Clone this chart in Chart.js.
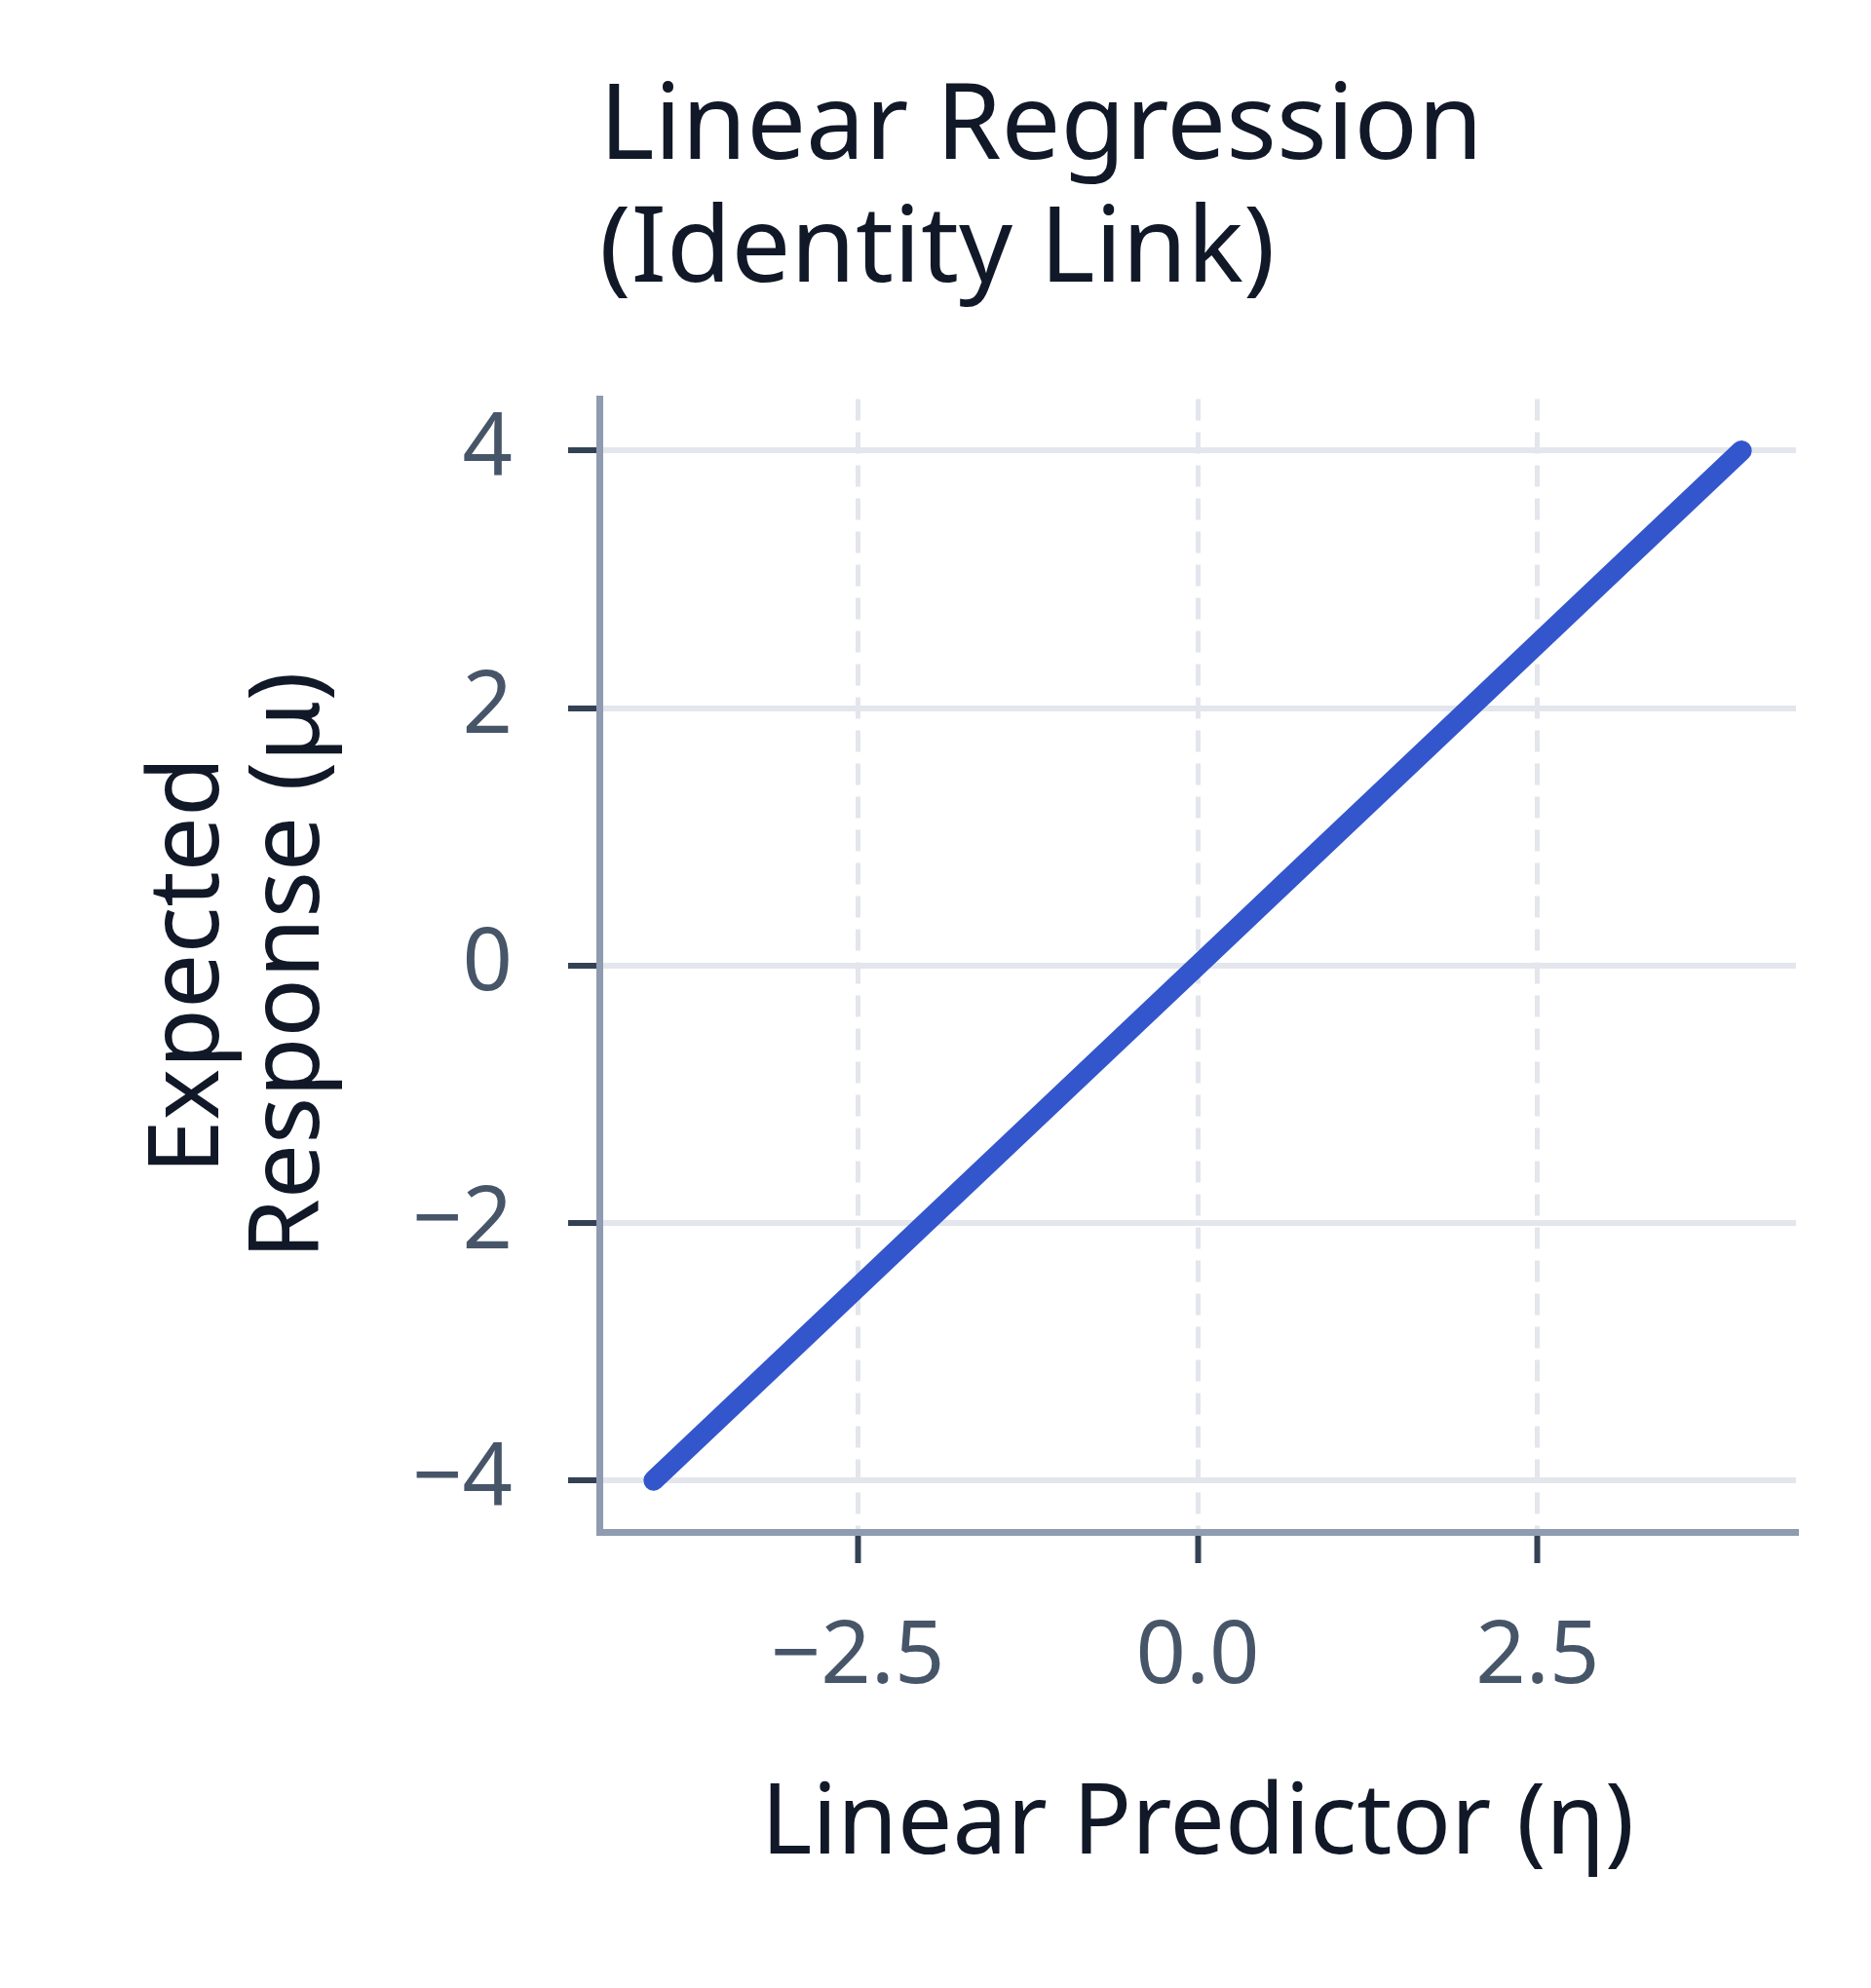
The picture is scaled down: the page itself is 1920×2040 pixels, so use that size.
<!DOCTYPE html>
<html>
<head>
<meta charset="utf-8">
<title>Linear Regression (Identity Link)</title>
<script src="https://cdn.jsdelivr.net/npm/chart.js@4.4.1/dist/chart.umd.min.js"></script>
<style>
    html, body { margin: 0; padding: 0; background: #ffffff; }
    #wrap { width: 1920px; height: 2040px; }
</style>
</head>
<body>
<div id="wrap"><canvas id="linkChart" width="1920" height="2040"></canvas></div>
<script>
// values
const etaValues = [-4, -3, -2, -1, 0, 1, 2, 3, 4];
const muValues = [-4, -3, -2, -1, 0, 1, 2, 3, 4];
const xTicks = [-2.5, 0, 2.5];
const yTicks = [-4, -2, 0, 2, 4];
const titleLines = ['Linear Regression', '(Identity Link)'];
const xTitle = 'Linear Predictor (η)';
const yTitle = ['Expected', 'Response (μ)'];

const FONT = '"Noto Sans", "Open Sans", "DejaVu Sans", sans-serif';
const colors = {
    line: '#3456cc',
    title: '#111827',
    tickLabel: '#475569',
    tickMark: '#334155',
    axis: '#8e9bb0',
    grid: '#e3e6ec'
};

function minusSign(str) {
    return str.replace('-', '\u2212');
}

const points = etaValues.map((x, i) => ({ x: x, y: muValues[i] }));

new Chart(document.getElementById('linkChart'), {
    type: 'line',
    data: {
        datasets: [{
            data: points,
            borderColor: colors.line,
            borderWidth: 21,
            borderCapStyle: 'round',
            borderJoinStyle: 'round',
            pointRadius: 0,
            pointHoverRadius: 0,
            tension: 0,
            fill: false
        }]
    },
    options: {
        responsive: false,
        devicePixelRatio: 1,
        animation: false,
        events: [],
        layout: {
            padding: { left: 0, right: 77, top: 0, bottom: 0 }
        },
        plugins: {
            legend: { display: false },
            tooltip: { enabled: false },
            title: {
                display: true,
                text: titleLines,
                align: 'start',
                fullSize: false,
                color: colors.title,
                font: { family: FONT, size: 108, weight: 'normal', lineHeight: 1.16 },
                padding: { top: 70, bottom: 89 }
            }
        },
        scales: {
            x: {
                type: 'linear',
                min: -4.4,
                max: 4.4,
                afterBuildTicks: (scale) => {
                    scale.ticks = xTicks.map(v => ({ value: v }));
                },
                afterFit: (scale) => {
                    scale.height = 468;
                },
                ticks: {
                    autoSkip: false,
                    maxRotation: 0,
                    padding: 43,
                    color: colors.tickLabel,
                    font: { family: FONT, size: 90, lineHeight: 1.2 },
                    callback: (value) => minusSign(Number(value).toFixed(1))
                },
                grid: {
                    color: colors.grid,
                    lineWidth: 5,
                    tickLength: 32,
                    tickColor: colors.tickMark,
                    tickWidth: 6,
                    tickBorderDash: []
                },
                border: {
                    display: true,
                    color: colors.axis,
                    width: 7,
                    dash: [22, 12]
                },
                title: {
                    display: true,
                    text: xTitle,
                    color: colors.title,
                    font: { family: FONT, size: 100, lineHeight: 1.01 },
                    padding: { top: 0, bottom: 116 }
                }
            },
            y: {
                type: 'linear',
                min: -4.4,
                max: 4.4,
                afterBuildTicks: (scale) => {
                    scale.ticks = yTicks.map(v => ({ value: v }));
                },
                afterFit: (scale) => {
                    scale.width = 615;
                },
                ticks: {
                    autoSkip: false,
                    padding: 57,
                    color: colors.tickLabel,
                    font: { family: FONT, size: 90, lineHeight: 1.2 },
                    callback: (value) => minusSign(String(value))
                },
                grid: {
                    color: colors.grid,
                    lineWidth: 6,
                    tickLength: 32,
                    tickColor: colors.tickMark,
                    tickWidth: 6
                },
                border: {
                    display: true,
                    color: colors.axis,
                    width: 7
                },
                title: {
                    display: true,
                    text: yTitle,
                    color: colors.title,
                    font: { family: FONT, size: 100, lineHeight: 1.03 },
                    padding: { top: 144, bottom: 0 }
                }
            }
        }
    }
});
</script>
</body>
</html>
